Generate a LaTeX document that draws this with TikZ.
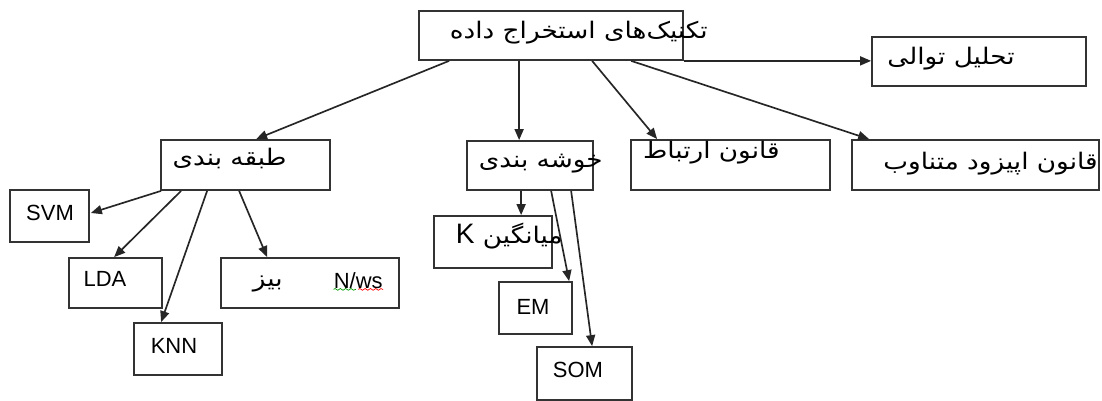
\documentclass[tikz,border=0pt]{standalone}
\usepackage{fontspec}
\setmainfont{Liberation Sans}
\newfontfamily\fafont[Script=Arabic,FakeStretch=1.15]{DejaVu Sans}
\TeXXeTstate=1
\usepackage{tikz}
\usetikzlibrary{arrows.meta,calc,fit,decorations.pathmorphing}
\definecolor{Edge}{HTML}{333333}

\begin{document}
\begin{tikzpicture}[x=0.02cm,y=-0.02cm,
  box/.style={draw=Edge,line width=1pt,inner sep=0pt,fill=white},
  fa/.style={font=\fafont\fontsize{13}{15}\selectfont,inner sep=0pt,anchor=east},
  en/.style={font=\fontsize{12.5}{14}\selectfont,inner sep=0pt},
  arr/.style={-{Triangle[length=2.2mm,width=1.8mm]},line width=.95pt,draw=black!85},
  squig/.style={decorate,decoration={snake,amplitude=.5pt,segment length=3pt},line width=.4pt}]
\useasboundingbox (0,0) rectangle (1102,401);

% boxes
\node[box,fit={(419,11) (683,60)}]   (root)  {};
\node[box,fit={(872,37) (1086,86)}]  (seq)   {};
\node[box,fit={(161,140) (330,190)}] (cls)   {};
\node[box,fit={(467,141) (593,190)}] (clu)   {};
\node[box,fit={(631,140) (830,190)}] (assoc) {};
\node[box,fit={(852,140) (1099,190)}] (epi)  {};
\node[box,fit={(10,190) (89,242)}]   (svm)   {};
\node[box,fit={(69,258) (162,308)}]  (lda)   {};
\node[box,fit={(134,323) (222,375)}] (knn)   {};
\node[box,fit={(221,258) (399,308)}] (bayes) {};
\node[box,fit={(434,216) (552,268)}] (kmean) {};
\node[box,fit={(499,282) (572,334)}] (em)    {};
\node[box,fit={(537,347) (632,400)}] (som)   {};

% texts
\node[fa] (rootT)  at (708,33)  {\beginR تکنیک‌های استخراج داده\endR};
\node[fa] (seqT)   at (1015,59) {\beginR تحلیل توالی\endR};
\node[fa] (clsT)   at (287,159) {\beginR طبقه بندی\endR};
\node[fa] (cluT)   at (603,164) {\beginR خوشه بندی\endR};
\node[fa] (assocT) at (780,153) {\beginR قانون ارتباط\endR};
\node[fa] (epiT)   at (1098,164) {\beginR قانون اپیزود متناوب\endR};
\node[fa] (bayesT) at (283,284) {\beginR بیز\endR};
\node[fa] (kmeanT) at (563,236) {\beginR میانگین \fontspec{Liberation Sans}\fontsize{16}{18}\selectfont K\endR};
\node[en] (svmT) at (50,213)  {SVM};
\node[en] (ldaT) at (105,279) {LDA};
\node[en] (knnT) at (174,346) {KNN};
\node[en] (emT)  at (533,307) {EM};
\node[en] (somT) at (578,370) {SOM};
\node[en,anchor=east] (nwsT) at (383,281) {N/ws};
\draw[squig,green!60!black] (nwsT.south west) -- ($(nwsT.south west)!.45!(nwsT.south east)$);
\draw[squig,red] ($(nwsT.south west)!.5!(nwsT.south east)$) -- (nwsT.south east);

% connectors from the root
\draw[arr] ($(root.south west)+(31,0)$) -- ($(cls.north west)+(96,0)$);
\draw[arr] ($(root.south west)+(101,0)$) -- ($(clu.north west)+(53,0)$);
\draw[arr] ($(root.south west)+(174,0)$) -- ($(assoc.north west)+(27,0)$);
\draw[arr] ($(root.south west)+(213,0)$) -- ($(epi.north west)+(18,0)$);
\draw[arr] (root.south east) -- (root.south east -| seq.west);

% classification
\draw[arr] ($(cls.south west)+(1,0)$) -- ($(svm.east)+(1,-3)$);
\draw[arr] ($(cls.south west)+(21,0)$) -- ($(lda.north west)+(46,0)$);
\draw[arr] ($(cls.south west)+(47,0)$) -- ($(knn.north west)+(28,0)$);
\draw[arr] ($(cls.south west)+(79,0)$) -- ($(bayes.north west)+(47,0)$);

% clustering
\draw[arr] ($(clu.south west)+(55,0)$) -- ($(kmean.north west)+(88,0)$);
\draw[arr] ($(clu.south west)+(85,0)$) -- ($(em.north west)+(71,0)$);
\draw[arr] ($(clu.south west)+(105,0)$) -- ($(som.north west)+(56,0)$);
\end{tikzpicture}
\end{document}
